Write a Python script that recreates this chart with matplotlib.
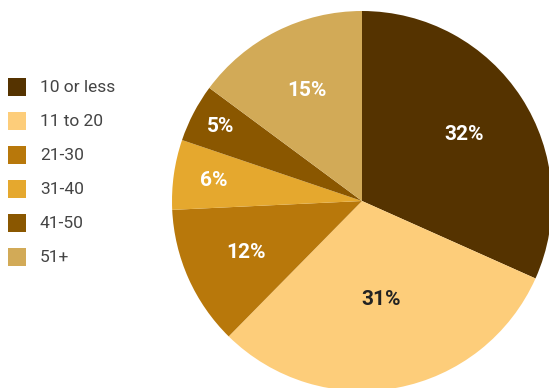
import matplotlib
matplotlib.use("Agg")
import matplotlib.pyplot as plt
import numpy as np

plt.rcParams['font.family'] = ['Liberation Sans Narrow', 'Roboto', 'DejaVu Sans']

# -----------------------------
# DATA
# -----------------------------
categories = ["10 or less", "11 to 20", "21-30", "31-40", "41-50", "51+"]
shares = [32, 31, 12, 6, 5, 15]
pct_labels = ["32%", "31%", "12%", "6%", "5%", "15%"]

colors = ["#553300", "#fdcd7a", "#b8780b", "#e5a82e", "#8a5700", "#d2aa57"]
text_colors = ["white", "#222222", "white", "white", "white", "white"]
label_dist = [0.64, 0.53, 0.67, 0.79, 0.84, 0.65]

W, H = 549, 388
fig = plt.figure(figsize=(W / 100, H / 100), dpi=100)
ax = fig.add_axes([0, 0, 1, 1])
ax.set_xlim(0, W)
ax.set_ylim(0, H)
ax.set_aspect('equal')
ax.axis('off')

cx, cy, R = 362, H - 201, 190

# ---------------------------------
# PIE
# ---------------------------------
wedges, _ = ax.pie(shares, colors=colors, startangle=90, counterclock=False,
                   center=(cx, cy), radius=R, frame=True,
                   wedgeprops=dict(linewidth=0))
ax.set_xlim(0, W)
ax.set_ylim(0, H)
ax.axis('off')

for w, lab, tc, d in zip(wedges, pct_labels, text_colors, label_dist):
    ang = np.deg2rad((w.theta1 + w.theta2) / 2)
    ax.text(cx + d * R * np.cos(ang), cy + d * R * np.sin(ang), lab,
            ha='center', va='center', color=tc, fontsize=15, fontweight='bold')

# ---------------------------------
# LEGEND
# ---------------------------------
for i, (cat, col) in enumerate(zip(categories, colors)):
    y = H - (87 + i * 34)
    ax.add_patch(plt.Rectangle((8, y - 9), 18, 18, color=col, lw=0))
    ax.text(40, y, cat, ha='left', va='center', fontsize=12.5, color='#444444')

fig.savefig("out.png", dpi=100)
